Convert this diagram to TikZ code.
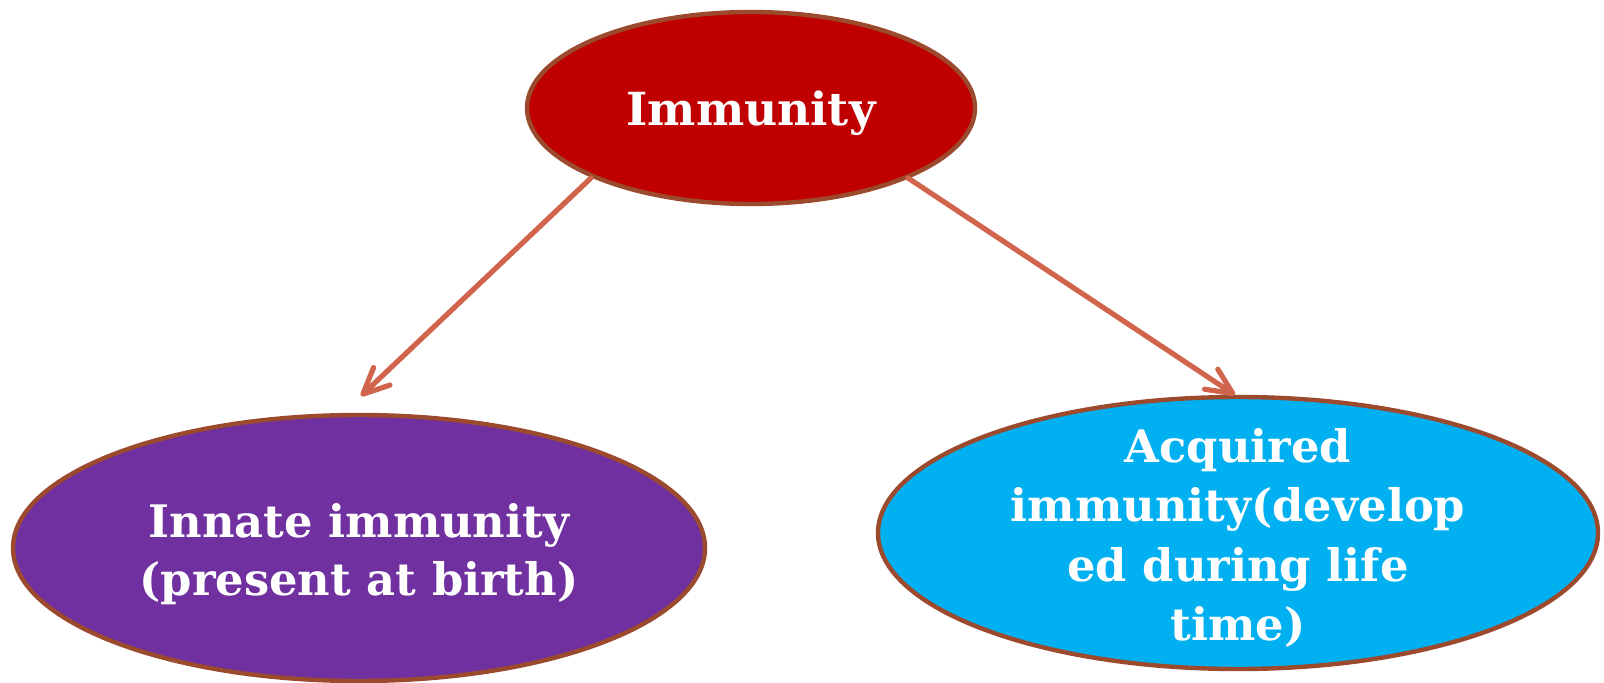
\documentclass[tikz,border=0pt]{standalone}
\usepackage{fontspec}
\setmainfont{DejaVu Serif}
\usetikzlibrary{arrows.meta,shapes.geometric}
\definecolor{redfill}{HTML}{C00000}
\definecolor{purplefill}{HTML}{7030A0}
\definecolor{cyanfill}{HTML}{00B0F0}
\definecolor{rim}{HTML}{9C4A2E}
\definecolor{arrowc}{HTML}{D0644C}
\newcommand{\bubtext}[3]{\raisebox{#1}[\height][\depth]{\parbox{#2}{\centering #3}}}
\tikzset{
  bubble/.style={ellipse, draw=rim, line width=2.2pt, text=white, font=\bfseries\fontsize{22.4}{29}\selectfont, align=center, inner sep=0pt},
  link/.style={draw=arrowc, line width=2.6pt, line cap=round, -{Straight Barb[length=13pt,width=12pt,line cap=round,line join=round]}}
}
\begin{document}
\begin{tikzpicture}[x=0.5pt,y=-0.5pt]
\useasboundingbox (0,0) rectangle (1604,683);
\node[bubble, fill=redfill, minimum width=224pt, minimum height=96pt, font=\bfseries\fontsize{22.8}{29}\selectfont] (imm) at (751,108) {\raisebox{-2.5pt}[\height][\depth]{Immunity}};
\node[bubble, fill=purplefill, minimum width=346pt, minimum height=133pt] (inn) at (359,548) {\bubtext{-3pt}{240pt}{Innate immunity\\(present at birth)}};
\node[bubble, fill=cyanfill, minimum width=360pt, minimum height=136pt, inner ysep=-12pt, font=\bfseries\fontsize{22.4}{29.6}\selectfont] (acq) at (1238,533) {\bubtext{-2.5pt}{230pt}{Acquired\\immunity(develop\\ed during life\\time)}};
\coordinate (a1) at (591,178);
\coordinate (t1) at (361,396);
\coordinate (a2) at (908,178);
\coordinate (t2) at (1235,395);
\draw[link] (a1) -- (t1);
\draw[link] (a2) -- (t2);
\end{tikzpicture}
\end{document}
